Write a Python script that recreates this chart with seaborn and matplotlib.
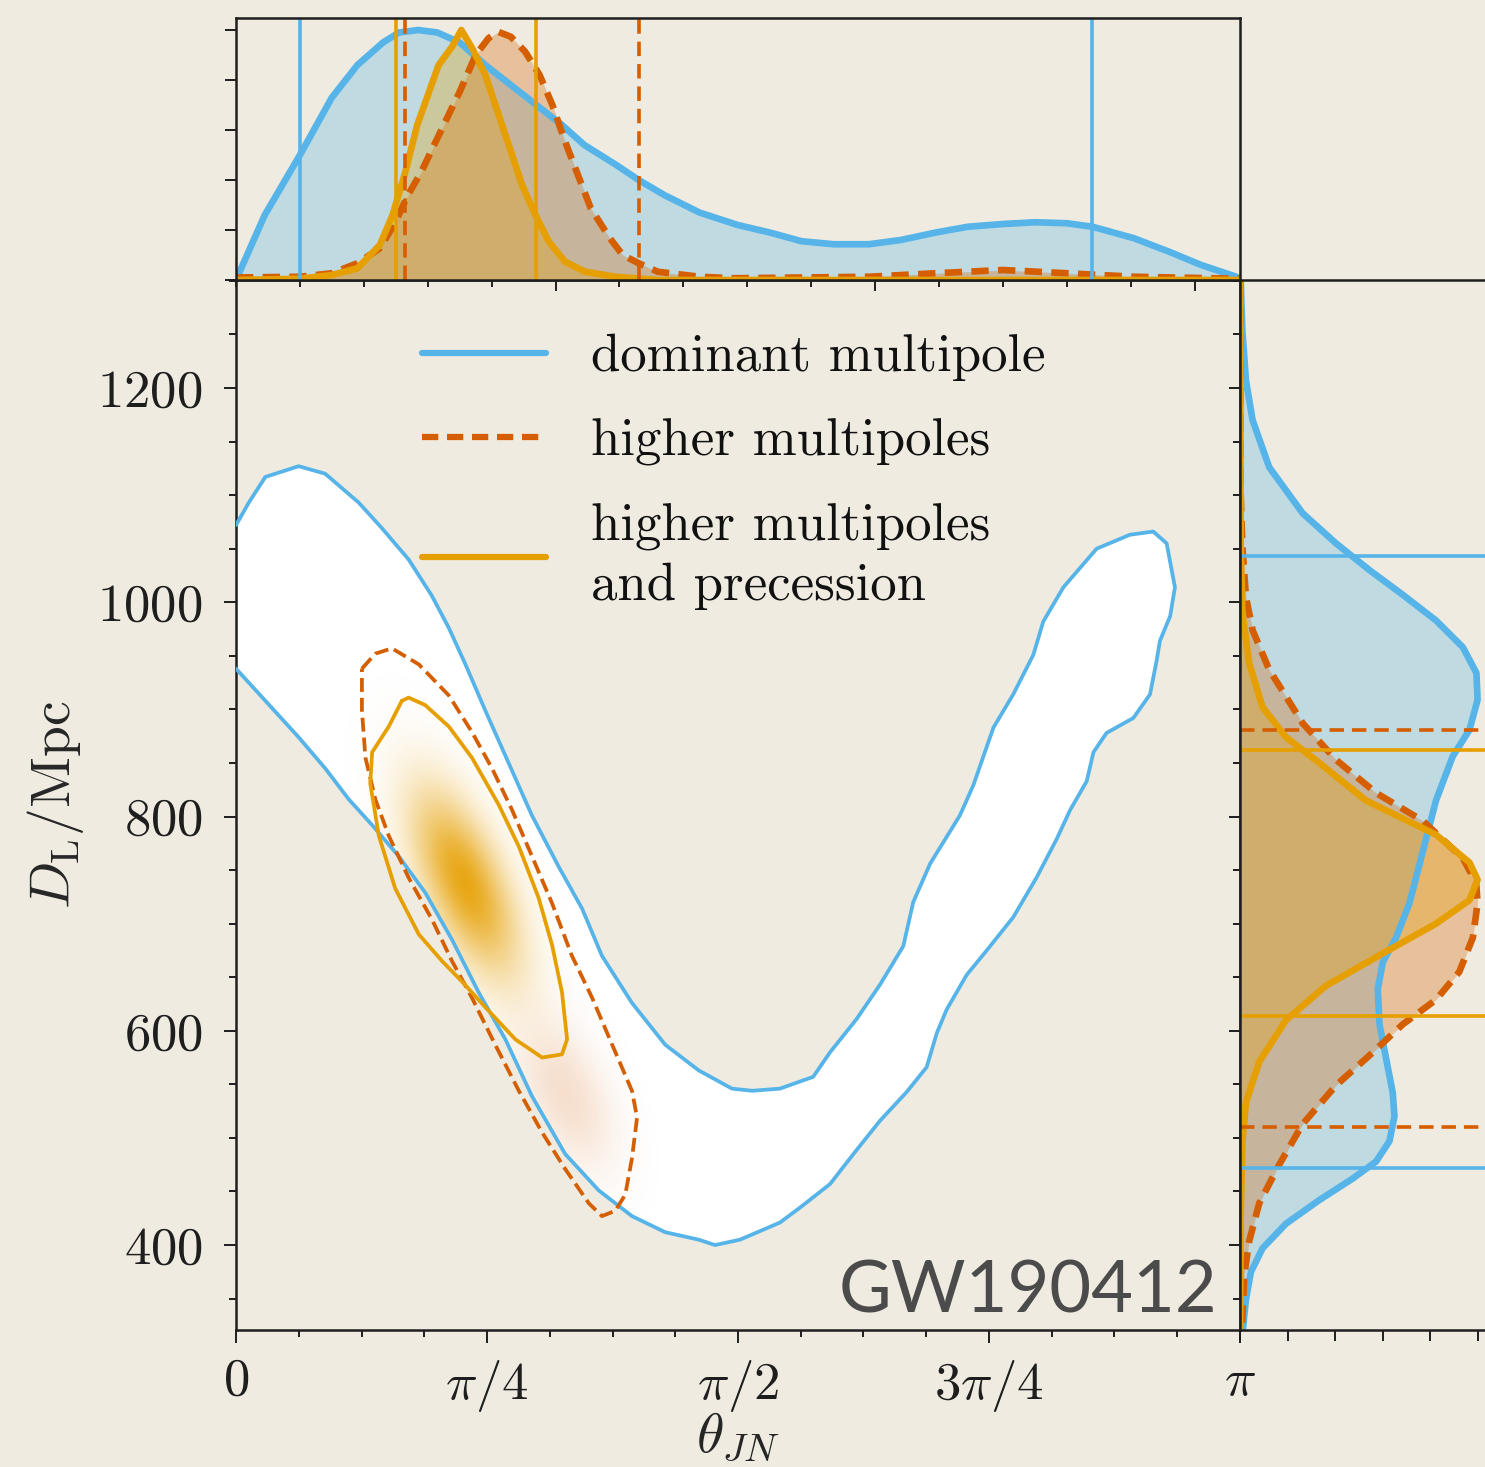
import numpy as np
import matplotlib
matplotlib.use("Agg")
import matplotlib.pyplot as plt
import seaborn as sns
from matplotlib.lines import Line2D
from matplotlib.patches import Polygon
from matplotlib.ticker import FixedLocator, MultipleLocator, NullFormatter, FixedFormatter

# ---------------------------------------------------------------------------
# Marginal posterior of theta_JN (normalised to unit peak)
# ---------------------------------------------------------------------------
dom_theta = [0.0, 0.09, 0.20, 0.30, 0.38, 0.46, 0.51, 0.57, 0.63, 0.70, 0.78, 0.87,
             0.95, 1.02, 1.09, 1.19, 1.26, 1.34, 1.45, 1.57, 1.67, 1.77, 1.87, 1.98,
             2.08, 2.19, 2.29, 2.40, 2.50, 2.60, 2.68, 2.81, 2.92, 3.02, 3.13, 3.1416]
dom_theta_pdf = [0.0, 0.26, 0.50, 0.73, 0.86, 0.95, 0.99, 1.00, 0.99, 0.95, 0.86, 0.77,
                 0.69, 0.62, 0.54, 0.46, 0.40, 0.34, 0.27, 0.22, 0.19, 0.155, 0.143, 0.143,
                 0.16, 0.19, 0.213, 0.224, 0.231, 0.227, 0.213, 0.167, 0.113, 0.06, 0.013, 0.0]

hm_theta = [0.0, 0.20, 0.30, 0.38, 0.45, 0.50, 0.535, 0.58, 0.63, 0.70, 0.75, 0.79,
            0.82, 0.86, 0.905, 0.95, 0.99, 1.03, 1.07, 1.11, 1.17, 1.21, 1.26, 1.32,
            1.45, 1.56, 1.98, 2.19, 2.40, 2.60, 2.81, 3.1416]
hm_theta_pdf = [0.01, 0.013, 0.027, 0.067, 0.127, 0.233, 0.333, 0.433, 0.567, 0.753, 0.90, 0.967,
                0.993, 0.973, 0.913, 0.82, 0.70, 0.553, 0.42, 0.287, 0.167, 0.10, 0.067, 0.033,
                0.013, 0.007, 0.013, 0.027, 0.04, 0.027, 0.013, 0.005]

hmp_theta = [0.0, 0.20, 0.30, 0.38, 0.45, 0.49, 0.53, 0.567, 0.634, 0.676, 0.705, 0.739,
             0.78, 0.822, 0.864, 0.895, 0.937, 0.979, 1.03, 1.093, 1.187, 1.32, 3.1416]
hmp_theta_pdf = [0.0, 0.005, 0.02, 0.047, 0.14, 0.26, 0.433, 0.62, 0.86, 0.933, 1.0, 0.927,
                 0.82, 0.66, 0.50, 0.38, 0.26, 0.153, 0.073, 0.033, 0.013, 0.0, 0.0]

# ---------------------------------------------------------------------------
# Marginal posterior of D_L / Mpc (normalised to unit peak)
# ---------------------------------------------------------------------------
dom_dl = [1300, 1254, 1207, 1170, 1126, 1083, 1055, 1030, 1007, 983, 958, 934, 909, 881,
          856, 815, 767, 719, 687, 664, 639, 606, 574, 542, 520, 497, 478, 462, 442,
          420, 397, 375, 349, 321]
dom_dl_pdf = [0.003, 0.01, 0.025, 0.053, 0.123, 0.264, 0.404, 0.545, 0.685, 0.825, 0.938, 0.995,
              1.0, 0.966, 0.895, 0.825, 0.769, 0.713, 0.657, 0.601, 0.58, 0.587, 0.615, 0.643,
              0.65, 0.629, 0.573, 0.474, 0.334, 0.194, 0.095, 0.046, 0.025, 0.012]

hm_dl = [1300, 1100, 1052, 1005, 974, 937, 887, 853, 822, 796, 761, 738, 719, 687, 655,
         629, 606, 577, 549, 513, 475, 439, 404, 372, 332, 321]
hm_dl_pdf = [0.0, 0.003, 0.01, 0.025, 0.053, 0.123, 0.264, 0.404, 0.573, 0.769, 0.938, 0.994,
             1.0, 0.98, 0.923, 0.825, 0.685, 0.545, 0.404, 0.264, 0.165, 0.081, 0.039, 0.018,
             0.01, 0.008]

hmp_dl = [1300, 1050, 990, 943, 902, 874, 850, 815, 783, 757, 741, 722, 700, 674, 642,
          610, 571, 533, 497, 430, 321]
hmp_dl_pdf = [0.0, 0.003, 0.01, 0.039, 0.095, 0.194, 0.334, 0.53, 0.825, 0.966, 1.0, 0.966,
              0.825, 0.615, 0.362, 0.194, 0.081, 0.025, 0.01, 0.003, 0.0]

# 90% credible intervals
dom_theta_ci = [0.20, 2.68]
hm_theta_ci = [0.53, 1.26]
hmp_theta_ci = [0.50, 0.94]
dom_dl_ci = [472, 1043]
hm_dl_ci = [510, 881]
hmp_dl_ci = [614, 862]

# ---------------------------------------------------------------------------
# 90% joint credible regions (theta_JN, D_L)
# ---------------------------------------------------------------------------
dom_region_theta = [0.000, 0.040, 0.092, 0.196, 0.279, 0.384, 0.457, 0.540, 0.613, 0.666,
                    0.718, 0.780, 0.853, 0.926, 1.010, 1.083, 1.145, 1.239, 1.343, 1.448,
                    1.552, 1.615, 1.702, 1.806, 1.859, 1.942, 2.015, 2.088, 2.119, 2.172,
                    2.265, 2.307, 2.370, 2.432, 2.495, 2.526, 2.589, 2.693, 2.797, 2.870,
                    2.912, 2.938, 2.923, 2.891, 2.881, 2.860, 2.808, 2.724, 2.683, 2.662,
                    2.610, 2.568, 2.505, 2.432, 2.349, 2.286, 2.224, 2.193, 2.161, 2.099,
                    2.015, 1.932, 1.859, 1.765, 1.702, 1.577, 1.499, 1.448, 1.343, 1.239,
                    1.135, 1.030, 0.926, 0.843, 0.759, 0.676, 0.592, 0.509, 0.426, 0.353,
                    0.279, 0.196, 0.092, 0.000]
dom_region_dl = [1072, 1093, 1117, 1127, 1120, 1093, 1069, 1040, 1006, 976,
                 942, 899, 850, 801, 753, 714, 670, 626, 587, 563,
                 546, 544, 546, 557, 580, 611, 643, 679, 720, 756,
                 801, 829, 883, 914, 951, 982, 1014, 1050, 1063, 1066,
                 1055, 1014, 987, 964, 946, 914, 892, 878, 860, 833,
                 806, 779, 743, 706, 675, 652, 620, 598, 566, 543,
                 516, 485, 457, 435, 421, 405, 400, 405, 412, 427,
                 451, 485, 539, 592, 636, 685, 729, 763, 792, 816,
                 845, 874, 908, 938]

hm_region_theta = [0.394, 0.436, 0.488, 0.572, 0.666, 0.738, 0.801, 0.864, 0.926, 0.989,
                   1.051, 1.114, 1.177, 1.239, 1.255, 1.239, 1.218, 1.187, 1.145, 1.104,
                   1.030, 0.958, 0.885, 0.811, 0.738, 0.676, 0.613, 0.540, 0.478, 0.436,
                   0.405, 0.394]
hm_region_dl = [938, 952, 957, 942, 913, 879, 845, 806, 763, 719,
                670, 631, 587, 544, 519, 481, 447, 432, 427, 439,
                471, 505, 544, 587, 631, 665, 704, 743, 782, 816,
                855, 899]

hmp_region_theta = [0.519, 0.478, 0.426, 0.420, 0.447, 0.498, 0.572, 0.645, 0.707, 0.780,
                    0.874, 0.958, 1.020, 1.036, 1.020, 0.989, 0.947, 0.885, 0.822, 0.738,
                    0.666, 0.592, 0.540]
hmp_region_dl = [908, 884, 860, 831, 782, 733, 690, 665, 646, 622,
                 592, 575, 578, 592, 636, 680, 724, 772, 811, 855,
                 884, 904, 911]

# density maxima of the joint posteriors (theta, D_L)
hmp_peak = (0.715, 738)
hm_peak = (1.03, 540)

labels = ["dominant multipole", "higher multipoles", "higher multipoles\nand precession"]

# ---------------------------------------------------------------------------
BG = "#EFEBE0"
C_DOM = "#56B4E9"
C_HM = "#D55E00"
C_HMP = "#E69F00"
SPINE = "#1e1e1e"

sns.set_theme(style="ticks")
plt.rcParams.update({
    "font.family": ["serif"],
    "font.serif": ["cmr10", "DejaVu Serif"],
    "mathtext.fontset": "cm",
    "axes.unicode_minus": False,
    "axes.formatter.use_mathtext": True,
    "axes.edgecolor": SPINE,
    "axes.linewidth": 1.8,
    "xtick.color": SPINE,
    "ytick.color": SPINE,
    "text.color": "#111111",
})

W, H = 1485, 1467
fig = plt.figure(figsize=(W / 100, H / 100), dpi=100, facecolor=BG)


def frac(x0, y0, x1, y1):
    return [x0 / W, 1 - y1 / H, (x1 - x0) / W, (y1 - y0) / H]


ax = fig.add_axes(frac(236, 280, 1240, 1330))
ax_top = fig.add_axes(frac(236, 18, 1240, 280))
ax_rt = fig.add_axes(frac(1240, 280, 1489, 1330))
for a in (ax, ax_top, ax_rt):
    a.set_facecolor(BG)

TH_MAX = np.pi
DL_MIN, DL_MAX = 320.7, 1300.8
PDF_MAX = 1.048

# ---------------------------------------------------------------------------
# Main panel
# ---------------------------------------------------------------------------
dom_poly = Polygon(np.column_stack([dom_region_theta, dom_region_dl]), closed=True,
                   facecolor="white", edgecolor="none", zorder=1)
ax.add_patch(dom_poly)

# smooth density shading of the precessing / higher-multipole posteriors
PX_TH, PX_DL = 319.58, 1.07125
gt = np.linspace(0.0, TH_MAX, 500)
gd = np.linspace(DL_MIN, DL_MAX, 500)
GT, GD = np.meshgrid(gt, gd)
ux, uy = np.array([96.6, -224.0]) / np.hypot(96.6, 224.0)


def blob(peak, s_long, s_short):
    dx = (GT - peak[0]) * PX_TH
    dy = (GD - peak[1]) * PX_DL
    along = dx * ux + dy * uy
    across = -dx * uy + dy * ux
    return np.exp(-0.5 * ((along / s_long) ** 2 + (across / s_short) ** 2))


for peak, sl, ss, col, amax in [(hm_peak, 55, 28, C_HM, 0.2), (hmp_peak, 68, 27, C_HMP, 0.92)]:
    g = blob(peak, sl, ss)
    rgba = np.zeros(g.shape + (4,))
    rgba[..., :3] = matplotlib.colors.to_rgb(col)
    rgba[..., 3] = amax * g
    im = ax.imshow(rgba, extent=[0, TH_MAX, DL_MIN, DL_MAX], origin="lower",
                   aspect="auto", interpolation="bilinear", zorder=2)
    im.set_clip_path(dom_poly)

sns.lineplot(x=dom_region_theta, y=dom_region_dl, sort=False, estimator=None, ax=ax,
             color=C_DOM, lw=2.7, zorder=4)
sns.lineplot(x=hm_region_theta + hm_region_theta[:1], y=hm_region_dl + hm_region_dl[:1],
             sort=False, estimator=None, ax=ax, color=C_HM, lw=2.7, ls="--", zorder=5)
sns.lineplot(x=hmp_region_theta + hmp_region_theta[:1], y=hmp_region_dl + hmp_region_dl[:1],
             sort=False, estimator=None, ax=ax, color=C_HMP, lw=2.7, zorder=6)

ax.set_xlim(0, TH_MAX)
ax.set_ylim(DL_MIN, DL_MAX)
ax.xaxis.set_major_locator(FixedLocator([0, np.pi / 4, np.pi / 2, 3 * np.pi / 4, np.pi]))
ax.xaxis.set_major_formatter(FixedFormatter([r"$0$", r"$\pi/4$", r"$\pi/2$", r"$3\pi/4$", r"$\pi$"]))
ax.xaxis.set_minor_locator(MultipleLocator(np.pi / 16))
ax.yaxis.set_major_locator(FixedLocator([400, 600, 800, 1000, 1200]))
ax.yaxis.set_major_formatter(FixedFormatter([r"$400$", r"$600$", r"$800$", r"$1000$", r"$1200$"]))
ax.yaxis.set_minor_locator(MultipleLocator(50))
ax.tick_params(which="both", direction="out", width=1.4, top=False, right=False,
               labelsize=38)
ax.tick_params(which="major", length=9)
ax.tick_params(which="minor", length=5)
ax.tick_params(axis="x", which="major", pad=11)
ax.tick_params(axis="y", which="major", pad=15)
ax.set_xlabel(r"$\theta_{JN}$", fontsize=40, labelpad=-2)
ax.set_ylabel(r"$D_{\rm L}/{\rm Mpc}$", fontsize=40, labelpad=8)

handles = [Line2D([], [], color=C_DOM, lw=4.5),
           Line2D([], [], color=C_HM, lw=4.5, ls="--", dashes=(2.6, 1.4)),
           Line2D([], [], color=C_HMP, lw=4.5)]
leg = ax.legend(handles, labels, loc="upper left", bbox_to_anchor=(0.185, 0.949),
                frameon=False, fontsize=38, handlelength=2.35, handletextpad=0.85,
                labelspacing=0.71, borderpad=0, borderaxespad=0)
leg.get_texts()[2].set_linespacing(1.31)

ax.text(0.977, 0.017, "GW190412", transform=ax.transAxes, ha="right", va="baseline",
        fontsize=52, color="#4b4b4b", family=["Lato", "DejaVu Sans"], zorder=8)

# ---------------------------------------------------------------------------
# Top marginal: theta_JN
# ---------------------------------------------------------------------------
for th, pdf, col in [(dom_theta, dom_theta_pdf, C_DOM),
                     (hm_theta, hm_theta_pdf, C_HM),
                     (hmp_theta, hmp_theta_pdf, C_HMP)]:
    ax_top.fill_between(th, 0, pdf, color=col, alpha=0.3, lw=0)
for th, pdf, col, ls in [(dom_theta, dom_theta_pdf, C_DOM, "-"),
                         (hm_theta, hm_theta_pdf, C_HM, "--"),
                         (hmp_theta, hmp_theta_pdf, C_HMP, "-")]:
    kw = dict(dashes=(2.6, 1.4)) if ls == "--" else {}
    sns.lineplot(x=th, y=pdf, sort=False, estimator=None, ax=ax_top, color=col, lw=4.8, **kw)
for ci, col, ls in [(dom_theta_ci, C_DOM, "-"), (hm_theta_ci, C_HM, "--"), (hmp_theta_ci, C_HMP, "-")]:
    for v in ci:
        kw = dict(dashes=(4, 2.2)) if ls == "--" else {}
        ax_top.axvline(v, color=col, lw=2.6, **kw)

ax_top.set_xlim(0, TH_MAX)
ax_top.set_ylim(0, PDF_MAX)
ax_top.xaxis.set_major_locator(FixedLocator([1, 2, 3]))
ax_top.xaxis.set_minor_locator(MultipleLocator(0.2))
ax_top.yaxis.set_major_locator(FixedLocator([0, 0.2, 0.4, 0.6, 0.8, 1.0]))
ax_top.xaxis.set_major_formatter(NullFormatter())
ax_top.yaxis.set_major_formatter(NullFormatter())
ax_top.tick_params(which="both", direction="out", width=1.4, top=False, right=False)
ax_top.tick_params(which="major", length=8)
ax_top.tick_params(which="minor", length=5)
ax_top.set_xlabel("")
ax_top.set_ylabel("")

# ---------------------------------------------------------------------------
# Right marginal: D_L
# ---------------------------------------------------------------------------
for dl, pdf, col in [(dom_dl, dom_dl_pdf, C_DOM), (hm_dl, hm_dl_pdf, C_HM), (hmp_dl, hmp_dl_pdf, C_HMP)]:
    ax_rt.fill_betweenx(dl, 0, pdf, color=col, alpha=0.3, lw=0)
for dl, pdf, col, ls in [(dom_dl, dom_dl_pdf, C_DOM, "-"),
                         (hm_dl, hm_dl_pdf, C_HM, "--"),
                         (hmp_dl, hmp_dl_pdf, C_HMP, "-")]:
    kw = dict(dashes=(2.6, 1.4)) if ls == "--" else {}
    sns.lineplot(x=pdf, y=dl, sort=False, estimator=None, orient="y", ax=ax_rt,
                 color=col, lw=4.8, **kw)
for ci, col, ls in [(dom_dl_ci, C_DOM, "-"), (hm_dl_ci, C_HM, "--"), (hmp_dl_ci, C_HMP, "-")]:
    for v in ci:
        kw = dict(dashes=(4, 2.2)) if ls == "--" else {}
        ax_rt.axhline(v, color=col, lw=2.6, **kw)

ax_rt.set_ylim(DL_MIN, DL_MAX)
ax_rt.set_xlim(0, PDF_MAX)
ax_rt.yaxis.set_major_locator(FixedLocator([400, 600, 800, 1000, 1200]))
ax_rt.yaxis.set_minor_locator(MultipleLocator(50))
ax_rt.xaxis.set_major_locator(FixedLocator([0, 0.2, 0.4, 0.6, 0.8, 1.0]))
ax_rt.xaxis.set_major_formatter(NullFormatter())
ax_rt.yaxis.set_major_formatter(NullFormatter())
ax_rt.tick_params(which="both", direction="out", width=1.4, top=False, right=False)
ax_rt.tick_params(which="major", length=8)
ax_rt.tick_params(which="minor", length=5)
ax_rt.set_xlabel("")
ax_rt.set_ylabel("")

fig.savefig("out.png", dpi=100, facecolor=BG)
